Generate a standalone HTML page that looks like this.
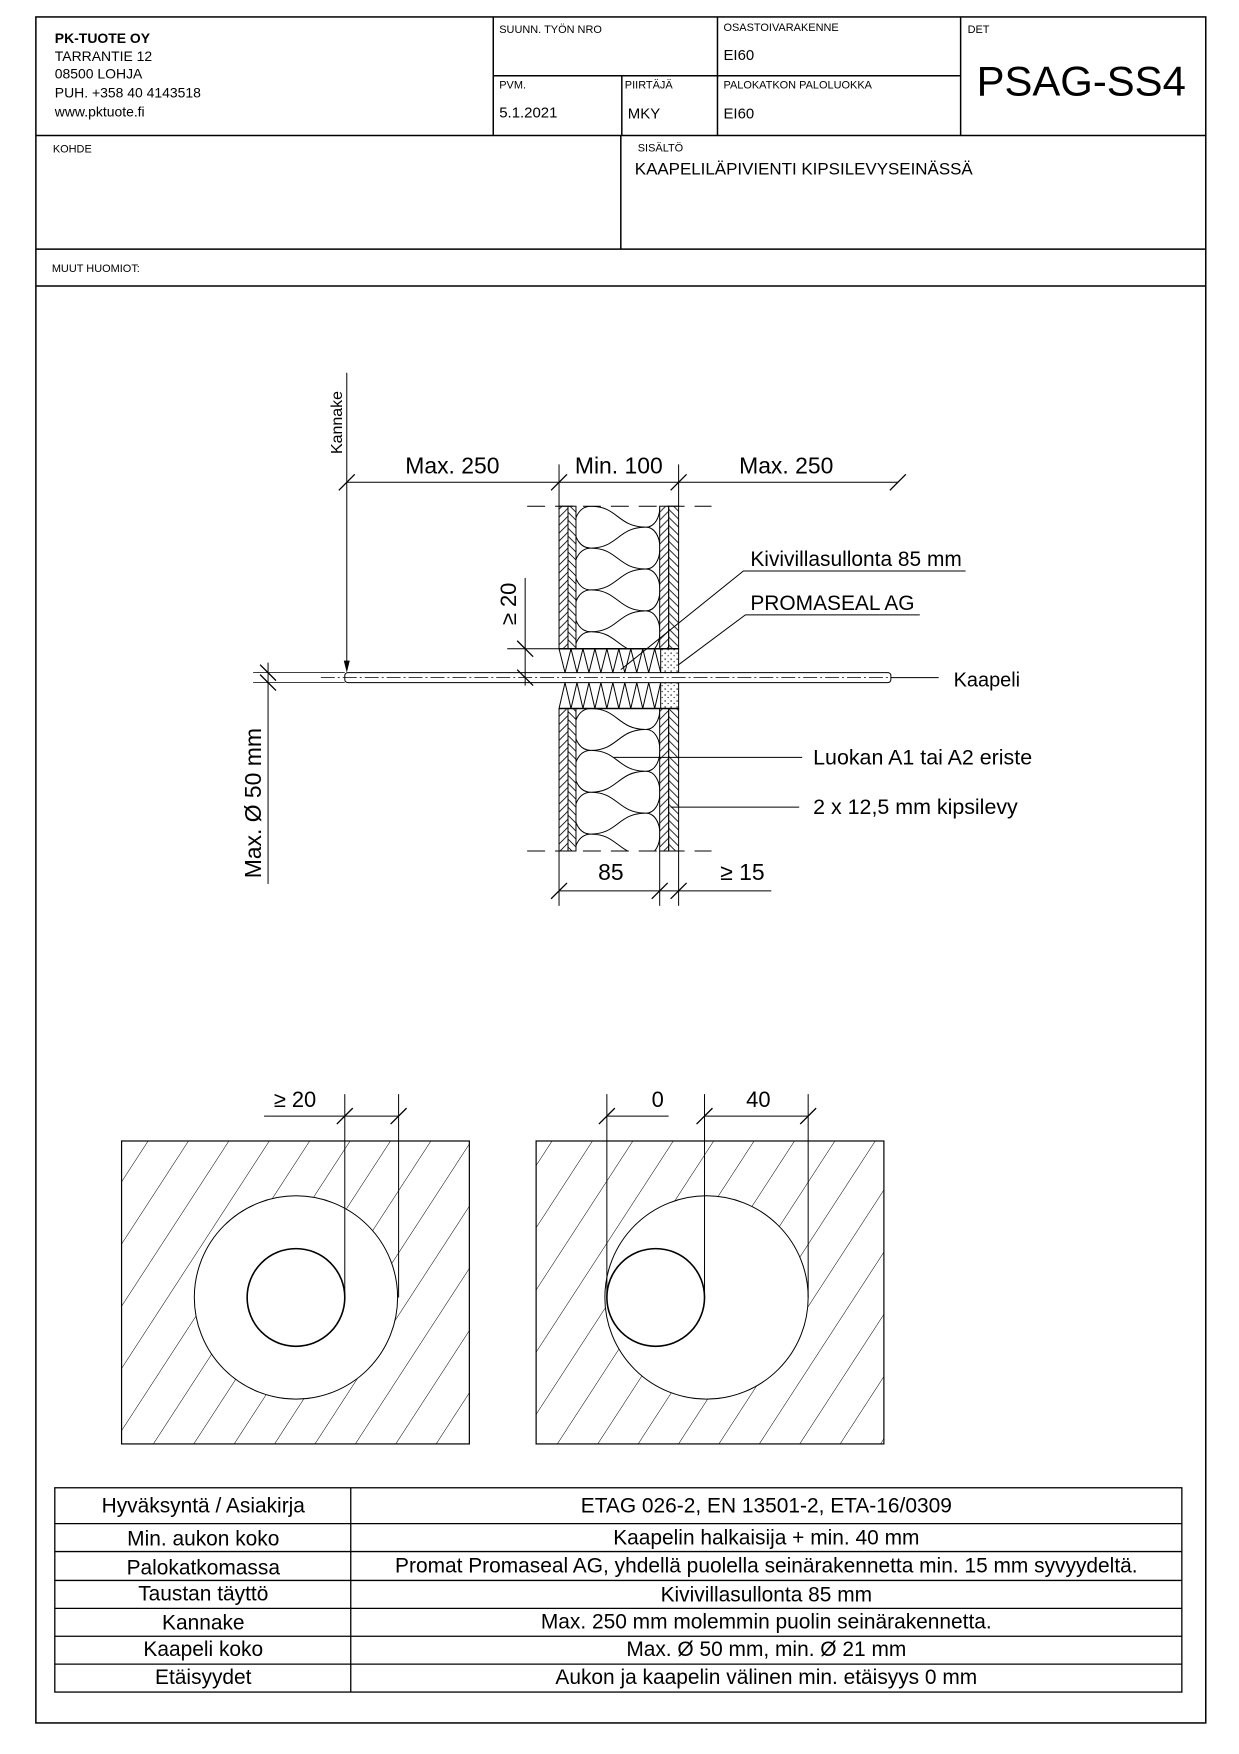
<!DOCTYPE html>
<html><head><meta charset="utf-8"><style>
html,body{margin:0;padding:0;background:#fff}
svg{display:block}
text{font-family:"Liberation Sans",Arial,sans-serif;fill:#000}
</style></head><body>
<svg width="1239" height="1754" viewBox="0 0 1239 1754" xmlns="http://www.w3.org/2000/svg">
<defs>
<pattern id="hb" width="8" height="8" patternUnits="userSpaceOnUse"><path d="M-2 2L2 -2M0 8L8 0M6 10L10 6" stroke="#000" stroke-width="0.8"/></pattern>
<pattern id="hb2" width="8" height="8" patternUnits="userSpaceOnUse"><path d="M-2 6L2 10M0 0L8 8M6 -2L10 2" stroke="#000" stroke-width="0.8"/></pattern>
<pattern id="dots" width="6" height="6" patternUnits="userSpaceOnUse"><circle cx="1.5" cy="1.5" r="0.7" fill="#000"/><circle cx="4.5" cy="4" r="0.6" fill="#000"/></pattern>
<pattern id="big" width="34" height="34" patternUnits="userSpaceOnUse" patternTransform="rotate(33)"><line x1="0" y1="0" x2="0" y2="34" stroke="#000" stroke-width="1"/></pattern>
<clipPath id="cTop"><rect x="578" y="508" width="84" height="143"/></clipPath>
<clipPath id="cBot"><rect x="578" y="711" width="84" height="143"/></clipPath>
<g id="wool" fill="none" stroke="#000" stroke-width="1">
<path d="M593 466C620 466 620 445 648 445M593 466C620 466 620 487 648 487M593 466C571 466 571 508 593 508
M593 508C620 508 620 487 648 487M593 508C620 508 620 529 648 529M593 508C571 508 571 550 593 550
M593 550C620 550 620 529 648 529M593 550C620 550 620 571 648 571M593 550C571 550 571 592 593 592
M593 592C620 592 620 571 648 571M593 592C620 592 620 613 648 613M593 592C571 592 571 634 593 634
M593 634C620 634 620 613 648 613M593 634C620 634 620 655 648 655M593 634C571 634 571 676 593 676
M648 487C667 487 667 529 648 529M648 529C667 529 667 571 648 571M648 571C667 571 667 613 648 613M648 613C667 613 667 655 648 655"/>
</g>
</defs>
<g transform="scale(0.9965)">
<!-- page border -->
<rect x="36" y="17" width="1174" height="1712" fill="none" stroke="#000" stroke-width="1.5"/>
<!-- title block -->
<g stroke="#000" stroke-width="1.5" fill="none">
<line x1="36" y1="136" x2="1210" y2="136"/>
<line x1="36" y1="250" x2="1210" y2="250"/>
<line x1="36" y1="287" x2="1210" y2="287"/>
<line x1="495" y1="17" x2="495" y2="136"/>
<line x1="720" y1="17" x2="720" y2="136"/>
<line x1="964" y1="17" x2="964" y2="136"/>
<line x1="495" y1="76" x2="964" y2="76"/>
<line x1="624" y1="76" x2="624" y2="136"/>
<line x1="623" y1="136" x2="623" y2="250"/>
</g>
<text x="55" y="43" font-size="14" font-weight="bold">PK-TUOTE OY</text>
<text x="55" y="61" font-size="14">TARRANTIE 12</text>
<text x="55" y="79" font-size="14">08500 LOHJA</text>
<text x="55" y="98" font-size="14">PUH. +358 40 4143518</text>
<text x="55" y="117" font-size="14">www.pktuote.fi</text>
<text x="501" y="33" font-size="11">SUUNN. TYÖN NRO</text>
<text x="726" y="31" font-size="11">OSASTOIVARAKENNE</text>
<text x="726" y="60" font-size="15">EI60</text>
<text x="971" y="33" font-size="11">DET</text>
<text x="980" y="96" font-size="42">PSAG-SS4</text>
<text x="501" y="89" font-size="11">PVM.</text>
<text x="627" y="89" font-size="11">PIIRTÄJÄ</text>
<text x="726" y="89" font-size="11">PALOKATKON PALOLUOKKA</text>
<text x="501" y="118" font-size="15">5.1.2021</text>
<text x="630" y="119" font-size="15">MKY</text>
<text x="726" y="119" font-size="15">EI60</text>
<text x="53" y="153" font-size="11">KOHDE</text>
<text x="640" y="152" font-size="11">SISÄLTÖ</text>
<text x="637" y="175" font-size="17">KAAPELILÄPIVIENTI KIPSILEVYSEINÄSSÄ</text>
<text x="52" y="273" font-size="11">MUUT HUOMIOT:</text>

<!-- section drawing -->
<g stroke="#000" stroke-width="1" fill="none">
<rect x="561" y="508" width="9" height="143" fill="url(#hb)"/>
<rect x="570" y="508" width="8" height="143" fill="url(#hb2)"/>
<rect x="662" y="508" width="9" height="143" fill="url(#hb)"/>
<rect x="671" y="508" width="10" height="143" fill="url(#hb2)"/>
<rect x="561" y="711" width="9" height="143" fill="url(#hb)"/>
<rect x="570" y="711" width="8" height="143" fill="url(#hb2)"/>
<rect x="662" y="711" width="9" height="143" fill="url(#hb)"/>
<rect x="671" y="711" width="10" height="143" fill="url(#hb2)"/>
<line x1="529" y1="508" x2="714" y2="508" stroke-dasharray="18,10"/>
<line x1="529" y1="854" x2="714" y2="854" stroke-dasharray="18,10"/>
<line x1="561" y1="651" x2="681" y2="651" stroke-width="1.5"/>
<line x1="561" y1="711" x2="681" y2="711" stroke-width="1.5"/>
<rect x="663" y="651" width="18" height="24" fill="url(#dots)"/>
<rect x="663" y="685" width="18" height="26" fill="url(#dots)"/>
<polyline points="561,651 567,675 573,651 579,675 585,651 591,675 597,651 603,675 609,651 615,675 621,651 627,675 633,651 639,675 645,651 651,675 657,651 663,675"/>
<polyline points="561,711 567,685 573,711 579,685 585,711 591,685 597,711 603,685 609,711 615,685 621,711 627,685 633,711 639,685 645,711 651,685 657,711 663,685"/>
<rect x="346" y="675" width="548" height="10" rx="3" fill="#fff"/>
<line x1="322" y1="680" x2="894" y2="680" stroke-dasharray="14,3,2,3" stroke-width="0.8"/>
<line x1="254" y1="675" x2="346" y2="675" stroke-width="0.8"/>
<line x1="254" y1="685" x2="346" y2="685" stroke-width="0.8"/>
<line x1="894" y1="680" x2="942" y2="680"/>
</g>
<g clip-path="url(#cTop)"><use href="#wool"/></g>
<g clip-path="url(#cBot)"><use href="#wool" transform="translate(0,203)"/></g>

<g stroke="#000" stroke-width="1" fill="none">
<line x1="348" y1="374" x2="348" y2="664"/>
<line x1="348" y1="484" x2="901" y2="484"/>
<line x1="561" y1="466" x2="561" y2="508"/>
<line x1="681" y1="466" x2="681" y2="508"/>
<path d="M340 492L356 476M553 492L569 476M673 492L689 476M893 492L909 476" stroke-width="1.3"/>
<line x1="527" y1="580" x2="527" y2="688"/>
<line x1="509" y1="651" x2="561" y2="651"/>
<path d="M519 643L535 659M519 672L535 688" stroke-width="1.3"/>
<line x1="269" y1="665" x2="269" y2="887"/>
<path d="M261 667L277 683M261 677L277 693" stroke-width="1.3"/>
<line x1="561" y1="854" x2="561" y2="909"/>
<line x1="662" y1="854" x2="662" y2="909"/>
<line x1="681" y1="854" x2="681" y2="909"/>
<line x1="561" y1="894" x2="774" y2="894"/>
<path d="M553 902L569 886M654 902L670 886M673 902L689 886" stroke-width="1.3"/>
<polyline points="969,573 746,573 623,672"/>
<polyline points="923,617 748,617 681,667"/>
<line x1="616" y1="760" x2="805" y2="760"/>
<line x1="673" y1="810" x2="802" y2="810"/>
</g>
<path d="M345 663L351 663L348 675Z" fill="#000"/>
<text x="343" y="424" font-size="16" text-anchor="middle" transform="rotate(-90 343 424)">Kannake</text>
<text x="454" y="475" font-size="23" text-anchor="middle">Max. 250</text>
<text x="621" y="475" font-size="23" text-anchor="middle">Min. 100</text>
<text x="789" y="475" font-size="23" text-anchor="middle">Max. 250</text>
<text x="518" y="606" font-size="22" text-anchor="middle" transform="rotate(-90 518 606)">≥ 20</text>
<text x="262" y="806" font-size="23" text-anchor="middle" transform="rotate(-90 262 806)">Max. Ø 50 mm</text>
<text x="753" y="568" font-size="21">Kivivillasullonta 85 mm</text>
<text x="753" y="612" font-size="21">PROMASEAL AG</text>
<text x="957" y="689" font-size="20">Kaapeli</text>
<text x="816" y="767" font-size="21.5">Luokan A1 tai A2 eriste</text>
<text x="816" y="817" font-size="21.5">2 x 12,5 mm kipsilevy</text>
<text x="613" y="883" font-size="23" text-anchor="middle">85</text>
<text x="745" y="883" font-size="23" text-anchor="middle">≥ 15</text>

<g stroke="#000" stroke-width="1.2">
<rect x="122" y="1145" width="349" height="304" fill="url(#big)"/>
<rect x="538" y="1145" width="349" height="304" fill="url(#big)"/>
<circle cx="297" cy="1302" r="102" fill="#fff" stroke-width="1"/>
<circle cx="297" cy="1302" r="49" fill="#fff" stroke-width="1.6"/>
<circle cx="709" cy="1302" r="102" fill="#fff" stroke-width="1"/>
<circle cx="658" cy="1302" r="49" fill="#fff" stroke-width="1.6"/>
</g>
<g stroke="#000" stroke-width="1" fill="none">
<line x1="346" y1="1098" x2="346" y2="1302"/>
<line x1="400" y1="1098" x2="400" y2="1302"/>
<line x1="265" y1="1120" x2="400" y2="1120"/>
<path d="M338 1128L354 1112M392 1128L408 1112" stroke-width="1.3"/>
<line x1="609" y1="1098" x2="609" y2="1302"/>
<line x1="707" y1="1098" x2="707" y2="1302"/>
<line x1="811" y1="1098" x2="811" y2="1302"/>
<line x1="609" y1="1120" x2="671" y2="1120"/>
<line x1="707" y1="1120" x2="811" y2="1120"/>
<path d="M601 1128L617 1112M699 1128L715 1112M803 1128L819 1112" stroke-width="1.3"/>
</g>
<text x="296" y="1111" font-size="22" text-anchor="middle">≥ 20</text>
<text x="660" y="1111" font-size="22" text-anchor="middle">0</text>
<text x="761" y="1111" font-size="22" text-anchor="middle">40</text>

<g stroke="#000" stroke-width="1.3" fill="none">
<rect x="55" y="1493" width="1131" height="205"/>
<line x1="352" y1="1493" x2="352" y2="1698"/>
<line x1="55" y1="1529" x2="1186" y2="1529"/>
<line x1="55" y1="1557" x2="1186" y2="1557"/>
<line x1="55" y1="1586" x2="1186" y2="1586"/>
<line x1="55" y1="1614" x2="1186" y2="1614"/>
<line x1="55" y1="1642" x2="1186" y2="1642"/>
<line x1="55" y1="1670" x2="1186" y2="1670"/>
</g>
<g font-size="21" text-anchor="middle">
<text x="204" y="1518">Hyväksyntä / Asiakirja</text>
<text x="204" y="1551">Min. aukon koko</text>
<text x="204" y="1580">Palokatkomassa</text>
<text x="204" y="1606">Taustan täyttö</text>
<text x="204" y="1635">Kannake</text>
<text x="204" y="1662">Kaapeli koko</text>
<text x="204" y="1690">Etäisyydet</text>
<text x="769" y="1518">ETAG 026-2, EN 13501-2, ETA-16/0309</text>
<text x="769" y="1550">Kaapelin halkaisija + min. 40 mm</text>
<text x="769" y="1578">Promat Promaseal AG, yhdellä puolella seinärakennetta min. 15 mm syvyydeltä.</text>
<text x="769" y="1607">Kivivillasullonta 85 mm</text>
<text x="769" y="1634">Max. 250 mm molemmin puolin seinärakennetta.</text>
<text x="769" y="1662">Max. Ø 50 mm, min. Ø 21 mm</text>
<text x="769" y="1690">Aukon ja kaapelin välinen min. etäisyys 0 mm</text>
</g>
</g>
</svg>
</body></html>
